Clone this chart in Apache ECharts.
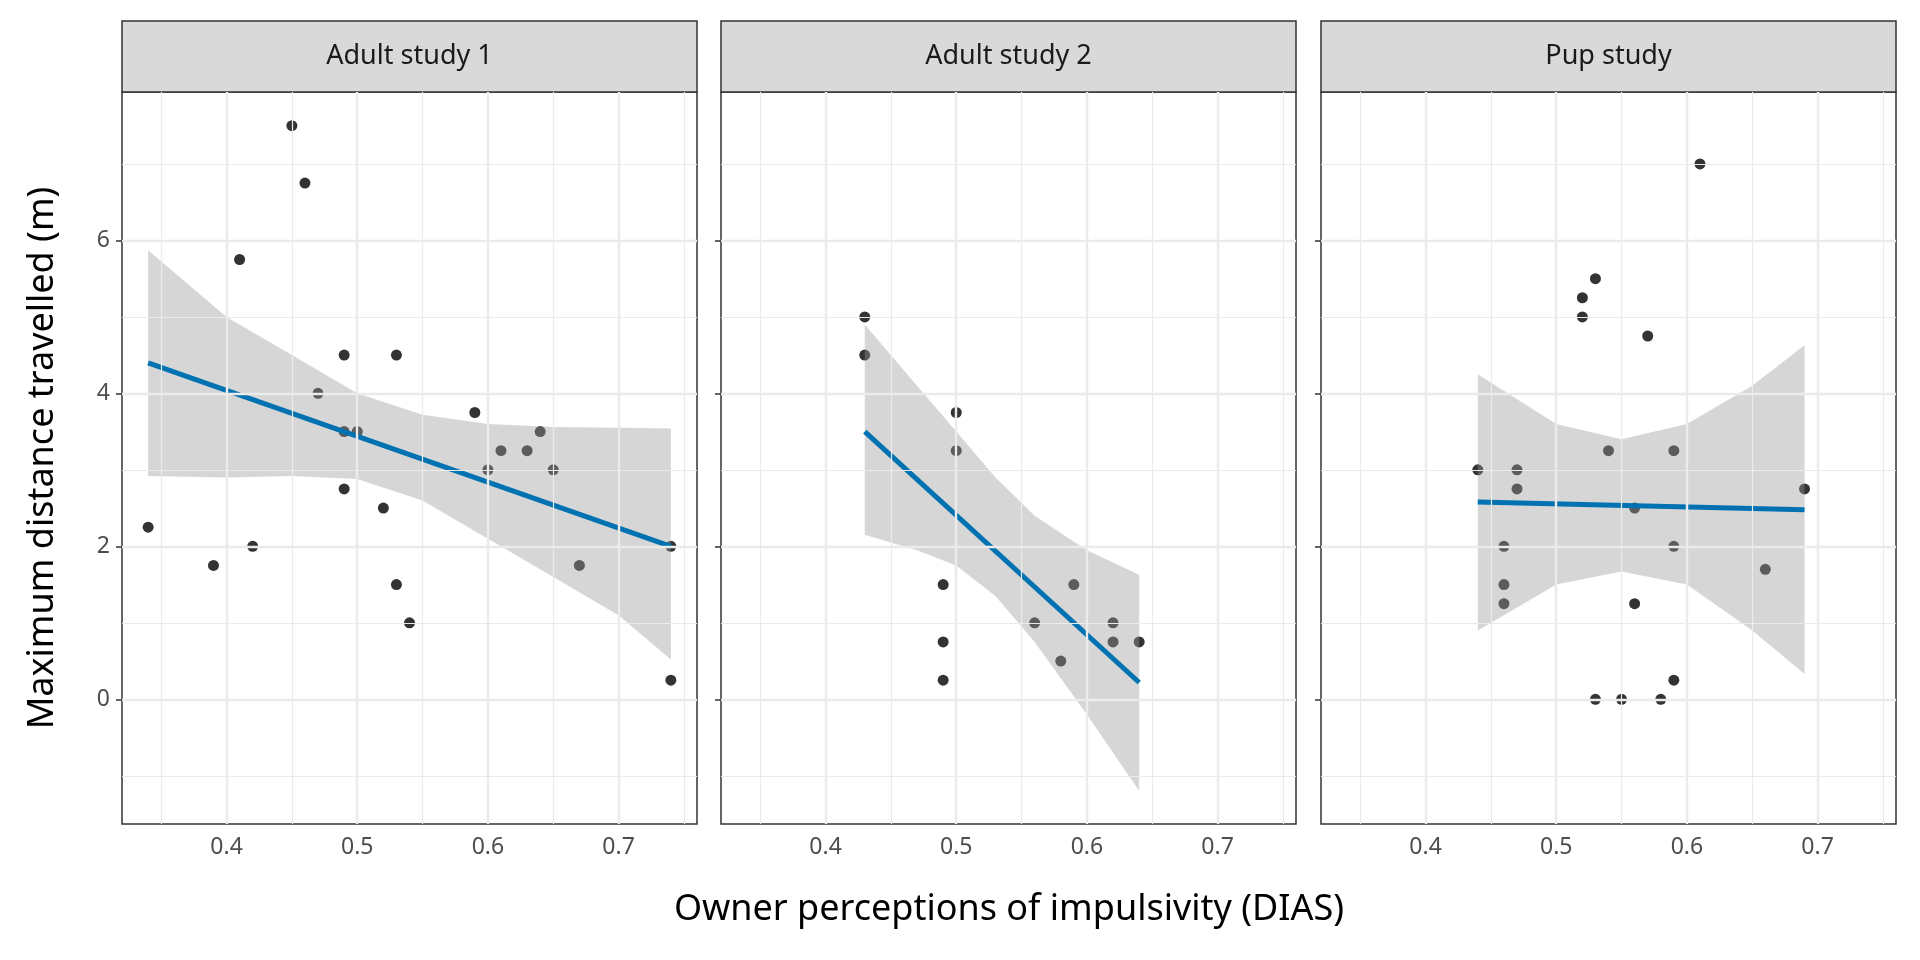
<!DOCTYPE html>
<html>
<head>
<meta charset="utf-8">
<script src="https://cdn.jsdelivr.net/npm/echarts@6/dist/echarts.min.js"></script>
<style>
  html, body { margin: 0; padding: 0; background: #fff; }
  #chart { width: 1920px; height: 960px; }
</style>
</head>
<body>
<div id="chart"></div>
<script>
// facet names
const panels = ['Adult study 1', 'Adult study 2', 'Pup study'];

// raw points [DIAS, distance]
const adult1Points = [
  [0.34, 2.25], [0.39, 1.75], [0.41, 5.75], [0.42, 2], [0.45, 7.5], [0.46, 6.75],
  [0.47, 4], [0.49, 4.5], [0.49, 3.5], [0.49, 2.75], [0.50, 3.5], [0.52, 2.5],
  [0.53, 4.5], [0.53, 1.5], [0.54, 1], [0.59, 3.75], [0.60, 3], [0.61, 3.25],
  [0.63, 3.25], [0.64, 3.5], [0.65, 3], [0.67, 1.75], [0.74, 2], [0.74, 0.25]
];
const adult2Points = [
  [0.43, 5], [0.43, 4.5], [0.49, 1.5], [0.49, 0.75], [0.49, 0.25], [0.50, 3.75],
  [0.50, 3.25], [0.56, 1], [0.58, 0.5], [0.59, 1.5], [0.62, 1], [0.62, 0.75], [0.64, 0.75]
];
const pupPoints = [
  [0.44, 3], [0.46, 2], [0.46, 1.5], [0.46, 1.25], [0.47, 3], [0.47, 2.75],
  [0.52, 5.25], [0.52, 5], [0.53, 5.5], [0.53, 0], [0.54, 3.25], [0.55, 0],
  [0.56, 2.5], [0.56, 1.25], [0.57, 4.75], [0.58, 0], [0.59, 3.25], [0.59, 2],
  [0.59, 0.25], [0.61, 7], [0.66, 1.7], [0.69, 2.75]
];

// fitted lines
const adult1Fit = [[0.34, 4.4], [0.74, 2.0]];
const adult2Fit = [[0.43, 3.5], [0.64, 0.22]];
const pupFit = [[0.44, 2.58], [0.69, 2.48]];

// confidence bands: x, lower, upper
const adult1BandX = [0.34, 0.40, 0.45, 0.50, 0.55, 0.60, 0.65, 0.70, 0.74];
const adult1Lower = [2.92, 2.9, 2.92, 2.88, 2.6, 2.1, 1.6, 1.1, 0.52];
const adult1Upper = [5.87, 5.0, 4.5, 4.0, 3.72, 3.6, 3.56, 3.55, 3.54];
const adult2BandX = [0.43, 0.47, 0.50, 0.53, 0.56, 0.60, 0.64];
const adult2Lower = [2.15, 1.95, 1.75, 1.35, 0.75, -0.2, -1.2];
const adult2Upper = [4.9, 4.1, 3.5, 2.9, 2.4, 1.95, 1.63];
const pupBandX = [0.44, 0.50, 0.55, 0.60, 0.65, 0.69];
const pupLower = [0.9, 1.5, 1.67, 1.5, 0.9, 0.33];
const pupUpper = [4.25, 3.6, 3.4, 3.6, 4.1, 4.63];

// ticks
const xTicks = [0.4, 0.5, 0.6, 0.7];
const xMinor = [0.35, 0.45, 0.55, 0.65, 0.75];
const yTicks = [0, 2, 4, 6];
const yMinor = [-1, 1, 3, 5, 7];

const pointSets = [adult1Points, adult2Points, pupPoints];
const fits = [adult1Fit, adult2Fit, pupFit];
const bands = [
  [adult1BandX, adult1Lower, adult1Upper],
  [adult2BandX, adult2Lower, adult2Upper],
  [pupBandX, pupLower, pupUpper]
];

const lefts = [122, 721, 1321];
const panelW = 575;
const plotTop = 92, panelH = 732;

const chart = echarts.init(document.getElementById('chart'));

const grid = [], xAxis = [], yAxis = [], series = [], graphic = [];

lefts.forEach((l, i) => {
  grid.push({ left: l, top: plotTop, width: panelW, height: panelH, show: true,
    borderColor: '#333', borderWidth: 1.5, backgroundColor: 'transparent' });
  xAxis.push({
    type: 'value', gridIndex: i, min: 0.32, max: 0.76,
    axisLine: { show: false },
    splitLine: { show: false },
    axisTick: { show: true, customValues: xTicks, length: 6, lineStyle: { color: '#333', width: 1.5 } },
    axisLabel: { customValues: xTicks, formatter: v => v.toFixed(1), color: '#4d4d4d',
      fontSize: 23, fontFamily: 'Noto Sans', margin: 12 }
  });
  yAxis.push({
    type: 'value', gridIndex: i, min: -1.63, max: 7.94,
    axisLine: { show: false },
    splitLine: { show: false },
    axisTick: { show: true, customValues: yTicks, length: 6, lineStyle: { color: '#333', width: 1.5 } },
    axisLabel: { show: i === 0, customValues: yTicks, color: '#4d4d4d',
      fontSize: 23, fontFamily: 'Noto Sans', margin: 12 }
  });

  // grid lines
  const mk = (arr, key, w) => arr.map(v => ({ [key]: v, lineStyle: { color: '#ebebeb', width: w, type: 'solid' } }));
  series.push({
    type: 'line', xAxisIndex: i, yAxisIndex: i, data: [[0.5, 0]], symbol: 'none',
    lineStyle: { opacity: 0 }, silent: true, z: 0,
    markLine: {
      silent: true, symbol: 'none', label: { show: false },
      data: [].concat(mk(xMinor, 'xAxis', 1.2), mk(yMinor, 'yAxis', 1.2),
        mk(xTicks, 'xAxis', 2.4), mk(yTicks, 'yAxis', 2.4))
    }
  });

  series.push({
    type: 'scatter', xAxisIndex: i, yAxisIndex: i, data: pointSets[i],
    symbolSize: 11, itemStyle: { color: '#000' }, z: 2, silent: true
  });

  const [bx, lo, up] = bands[i];
  series.push({
    type: 'custom', xAxisIndex: i, yAxisIndex: i, data: [0], z: 3, silent: true,
    renderItem: (params, api) => {
      const pts = [];
      bx.forEach((x, k) => pts.push(api.coord([x, up[k]])));
      for (let k = bx.length - 1; k >= 0; k--) pts.push(api.coord([bx[k], lo[k]]));
      return { type: 'polygon', shape: { points: pts },
        style: { fill: 'rgba(153,153,153,0.4)' } };
    }
  });

  series.push({
    type: 'line', xAxisIndex: i, yAxisIndex: i, data: fits[i], symbol: 'none',
    lineStyle: { color: '#0072B2', width: 5 }, z: 4, silent: true
  });

  // facet strip
  graphic.push({
    type: 'rect', shape: { x: l, y: 21, width: panelW, height: plotTop - 21 },
    style: { fill: '#d9d9d9', stroke: '#333', lineWidth: 1.5 }
  });
  graphic.push({
    type: 'text', x: l + panelW / 2, y: 21 + (plotTop - 21) / 2,
    style: { text: panels[i], fill: '#1a1a1a', font: '27px "Noto Sans"',
      textAlign: 'center', textVerticalAlign: 'middle' }
  });
});

graphic.push({
  type: 'text', x: 1009, y: 910,
  style: { text: 'Owner perceptions of impulsivity (DIAS)', fill: '#000',
    font: '36px "Noto Sans"', textAlign: 'center', textVerticalAlign: 'middle' }
});
graphic.push({
  type: 'text', x: 43, y: 458, rotation: Math.PI / 2,
  style: { text: 'Maximum distance travelled (m)', fill: '#000',
    font: '36px "Noto Sans"', textAlign: 'center', textVerticalAlign: 'middle' }
});

chart.setOption({ animation: false, grid, xAxis, yAxis, series, graphic });
</script>
</body>
</html>
